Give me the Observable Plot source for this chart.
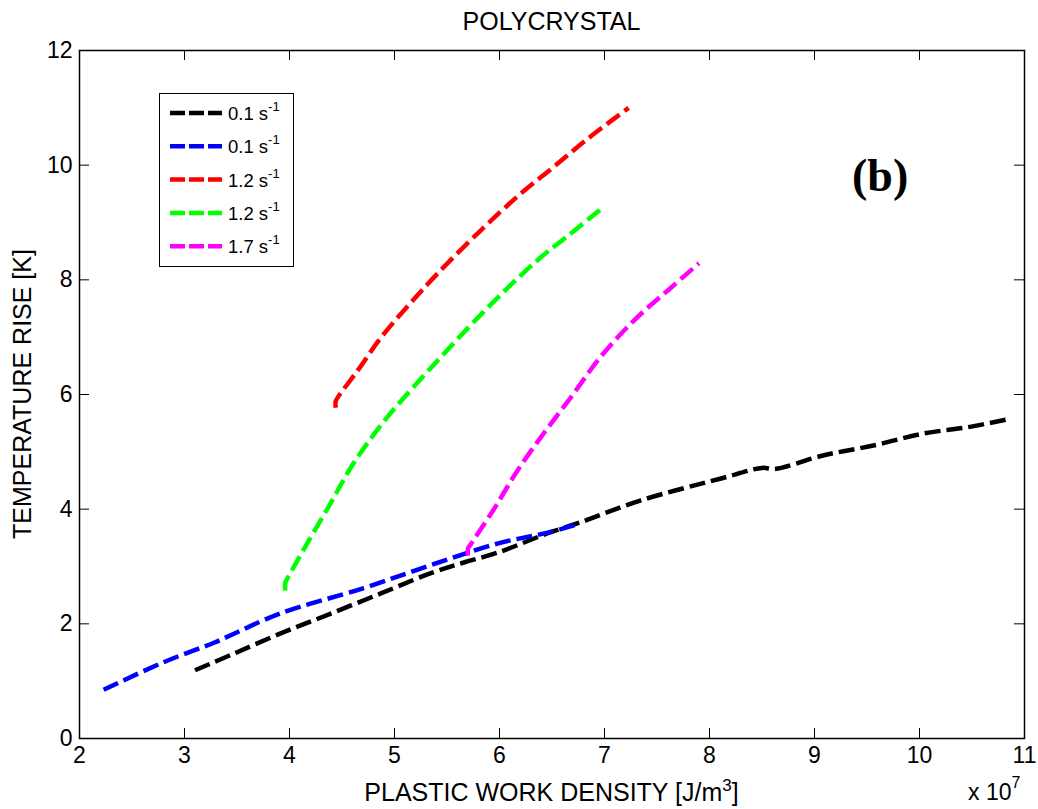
<!DOCTYPE html>
<html><head><meta charset="utf-8">
<script src="https://cdn.jsdelivr.net/npm/d3@7"></script>
<script src="https://cdn.jsdelivr.net/npm/@observablehq/plot@0.6"></script>
<style>body{margin:0;background:#fff} svg{display:block}</style>
</head><body><div id="chart"></div>
<script>
// Tick values (x in units of 1e7 J/m^3)
const xTicks = [2,3,4,5,6,7,8,9,10,11];
const yTicks = [0,2,4,6,8,10,12];

// Series (x: plastic work density / 1e7, y: temperature rise K)
const blackX = [3.10,3.47,3.91,4.23,4.87,5.34,5.66,5.98,6.46,6.77,7.34,8.10,8.50,8.62,9.09,9.56,10.04,10.46,10.82];
const blackY = [1.19,1.48,1.83,2.06,2.53,2.88,3.07,3.24,3.58,3.77,4.15,4.53,4.72,4.70,4.94,5.11,5.32,5.43,5.56];
const blueX = [2.23,2.80,3.28,3.44,3.91,4.70,5.34,5.98,6.46,6.77];
const blueY = [0.85,1.33,1.67,1.80,2.18,2.62,3.02,3.40,3.59,3.75];
const redX = [4.44,4.44,4.46,4.65,4.87,5.15,5.41,5.82,6.20,6.51,6.84,7.23];
const redY = [5.77,5.88,5.95,6.42,6.99,7.59,8.11,8.86,9.50,9.96,10.46,11.00];
const greenX = [3.96,3.96,3.98,4.13,4.39,4.61,4.93,5.41,5.89,6.36,6.68,6.87,6.99];
const greenY = [2.58,2.72,2.79,3.28,4.10,4.80,5.60,6.59,7.52,8.34,8.81,9.09,9.27];
const magentaX = [5.70,5.70,5.72,5.94,6.17,6.42,6.68,6.96,7.28,7.60,7.90];
const magentaY = [3.19,3.31,3.37,3.98,4.67,5.32,5.95,6.65,7.29,7.81,8.29];

const legendRates = ["0.1","0.1","1.2","1.2","1.7"];
const colors = ["#000000","#0000ff","#ff0000","#00ff00","#ff00ff"];
const seriesX = [blackX, blueX, redX, greenX, magentaX];
const seriesY = [blackY, blueY, redY, greenY, magentaY];

const rows = (xs, ys) => xs.map((x, i) => ({x, y: ys[i]}));

const W = 1038, H = 809, mL = 79, mR = 14, mT = 50, mB = 71;
const fw = W - mL - mR, fh = H - mT - mB;
const font = "'Liberation Sans', Arial, Helvetica, sans-serif";
const dash = "16,6";

const chart = Plot.plot({
  width: W, height: H,
  marginLeft: mL, marginRight: mR, marginTop: mT, marginBottom: mB,
  style: {fontFamily: font, fontSize: "23px", color: "#000", background: "#fff"},
  x: {domain: [2, 11]},
  y: {domain: [0, 12]},
  marks: [
    Plot.tickX(xTicks, {x: d => d, stroke: "#000", insetTop: fh - 10}),
    Plot.tickX(xTicks, {x: d => d, stroke: "#000", insetBottom: fh - 10}),
    Plot.tickY(yTicks, {y: d => d, stroke: "#000", insetRight: fw - 10}),
    Plot.tickY(yTicks, {y: d => d, stroke: "#000", insetLeft: fw - 10}),
    Plot.axisX(xTicks, {anchor: "bottom", tickSize: 0, tickPadding: 8, label: null, fontSize: 23, tickFormat: d => String(d)}),
    Plot.axisY(yTicks, {anchor: "left", tickSize: 0, tickPadding: 7, label: null, fontSize: 23, tickFormat: d => String(d)}),
    ...seriesX.map((xs, i) => Plot.line(rows(xs, seriesY[i]), {
      x: "x", y: "y", stroke: colors[i], strokeWidth: 4.5, curve: "catmull-rom",
      strokeDasharray: dash, strokeLinecap: "butt", strokeLinejoin: "round"
    })),
    Plot.frame({stroke: "#000", strokeWidth: 1.5})
  ]
});

document.getElementById("chart").appendChild(chart);

const svg = d3.select(chart);
const g = svg.append("g").attr("font-family", font).attr("fill", "#000").attr("text-anchor", "start");

// Title
g.append("text").attr("x", mL + fw / 2).attr("y", 30).attr("text-anchor", "middle")
  .attr("font-size", 25).text("POLYCRYSTAL");

// X label
const xl = g.append("text").attr("x", mL + fw / 2).attr("y", 801).attr("text-anchor", "middle").attr("font-size", 25);
xl.append("tspan").text("PLASTIC WORK DENSITY [J/m");
xl.append("tspan").attr("font-size", 17).attr("dy", -10).text("3");
xl.append("tspan").attr("dy", 10).text("]");

// Y label
g.append("text").attr("transform", `translate(31,${mT + fh / 2}) rotate(-90)`)
  .attr("text-anchor", "middle").attr("font-size", 25).text("TEMPERATURE RISE [K]");

// Exponent
const ex = g.append("text").attr("x", 968).attr("y", 800).attr("font-size", 23);
ex.append("tspan").text("x 10");
ex.append("tspan").attr("font-size", 16).attr("dy", -12).text("7");

// Panel label
g.append("text").attr("x", 852).attr("y", 191).attr("font-family", "'Liberation Serif', 'Times New Roman', serif")
  .attr("font-weight", "bold").attr("font-size", 46).text("(b)");

// Legend
const lg = g.append("g");
lg.append("rect").attr("x", 159.5).attr("y", 93.5).attr("width", 134).attr("height", 173)
  .attr("fill", "#fff").attr("stroke", "#000").attr("stroke-width", 1);
legendRates.forEach((r, i) => {
  const cy = 113 + i * 33.3;
  lg.append("line").attr("x1", 170).attr("x2", 222).attr("y1", cy).attr("y2", cy)
    .attr("stroke", colors[i]).attr("stroke-width", 4.5).attr("stroke-dasharray", "15,4");
  const t = lg.append("text").attr("x", 228).attr("y", cy + 7).attr("font-size", 18.5);
  t.append("tspan").text(r + " s");
  t.append("tspan").attr("font-size", 13).attr("dy", -9).text("-1");
});
</script>
</body></html>
